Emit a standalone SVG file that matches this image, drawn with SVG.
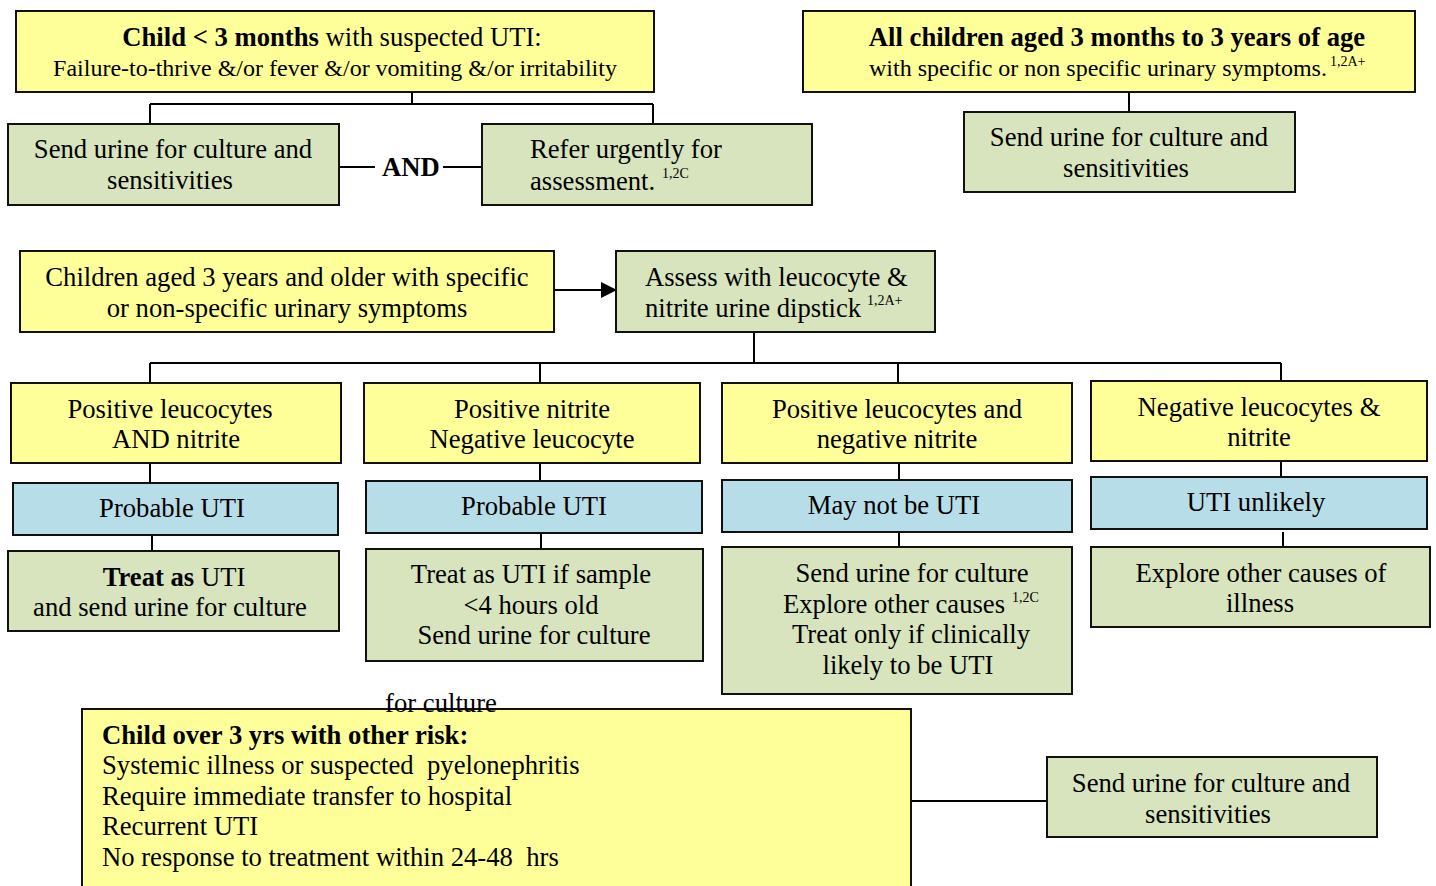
<svg xmlns="http://www.w3.org/2000/svg" width="1436" height="886" viewBox="0 0 1436 886">
<defs>
<style>
.y{fill:#FFFF99;stroke:#111;stroke-width:2}
.g{fill:#D7E4BD;stroke:#111;stroke-width:2}
.b{fill:#B7DDE8;stroke:#111;stroke-width:2}
text{font-family:"Liberation Serif","Times New Roman",serif;font-size:26.67px;fill:#000}
.c{text-anchor:middle}
.s{font-size:24px}
.sup{font-size:14px}
.bd{font-weight:bold}
.ln{stroke:#000;stroke-width:2;fill:none}
</style>
<marker id="ah" markerWidth="16" markerHeight="16" refX="15" refY="8" orient="auto" markerUnits="userSpaceOnUse">
<path d="M0,0 L16,8 L0,16 Z" fill="#000"/>
</marker>
</defs>
<rect width="1436" height="886" fill="#fff"/>
<g id="connectors">
<path class="ln" d="M412,92 V104 M150,104 H653 M150,104 V124 M653,104 V124"/>
<path class="ln" d="M339,167 H375 M443,167 H482"/>
<path class="ln" d="M1129,92 V112"/>
<path class="ln" d="M554,290 H616" marker-end="url(#ah)"/>
<path class="ln" d="M754,332 V363 M150,363 H1281 M150,363 V383 M540,363 V383 M898,363 V383 M1281,363 V381"/>
<path class="ln" d="M150,463 V483 M540,463 V481 M899,463 V480 M1281,461 V477"/>
<path class="ln" d="M152,535 V551 M541,533 V549 M899,532 V547 M1283,532 V546"/>
<path class="ln" d="M911,801 H1047"/>
</g>
<g id="n_child3m">
<rect class="y" x="16" y="11" width="638" height="81"/>
<text class="c" x="332" y="46"><tspan class="bd">Child &lt; 3 months</tspan> with suspected UTI:</text>
<text class="c s" x="335" y="76">Failure-to-thrive &amp;/or fever &amp;/or vomiting &amp;/or irritability</text>
</g>
<g id="n_send1">
<rect class="g" x="8" y="124" width="331" height="81"/>
<text class="c" x="173" y="158">Send urine for culture and</text>
<text class="c" x="170" y="189">sensitivities</text>
</g>
<g id="n_and">
<text class="c bd" x="411" y="176">AND</text>
</g>
<g id="n_refer">
<rect class="g" x="482" y="124" width="330" height="81"/>
<text x="530" y="158">Refer urgently for</text>
<text x="530" y="190">assessment.</text>
<text class="sup" x="662" y="178">1,2C</text>
</g>
<g id="n_child3m3y">
<rect class="y" x="803" y="11" width="612" height="81"/>
<text class="c bd" x="1117" y="46">All children aged 3 months to 3 years of age</text>
<text class="s" x="869" y="76">with specific or non specific urinary symptoms.</text>
<text class="sup" x="1330" y="66">1,2A+</text>
</g>
<g id="n_send2">
<rect class="g" x="964" y="112" width="331" height="80"/>
<text class="c" x="1129" y="146">Send urine for culture and</text>
<text class="c" x="1126" y="177">sensitivities</text>
</g>
<g id="n_child3y">
<rect class="y" x="20" y="251" width="534" height="81"/>
<text class="c" x="287" y="286">Children aged 3 years and older with specific</text>
<text class="c" x="287" y="317">or non-specific urinary symptoms</text>
</g>
<g id="n_assess">
<rect class="g" x="616" y="251" width="319" height="81"/>
<text x="645" y="286">Assess with leucocyte &amp;</text>
<text x="645" y="317">nitrite urine dipstick</text>
<text class="sup" x="867" y="305">1,2A+</text>
</g>
<g id="n_pos_both">
<rect class="y" x="11" y="383" width="330" height="80"/>
<text class="c" x="170" y="418">Positive leucocytes</text>
<text class="c" x="176" y="448">AND nitrite</text>
</g>
<g id="n_pos_nit">
<rect class="y" x="364" y="383" width="336" height="80"/>
<text class="c" x="532" y="418">Positive nitrite</text>
<text class="c" x="532" y="448">Negative leucocyte</text>
</g>
<g id="n_pos_leu">
<rect class="y" x="722" y="383" width="350" height="80"/>
<text class="c" x="897" y="418">Positive leucocytes and</text>
<text class="c" x="897" y="448">negative nitrite</text>
</g>
<g id="n_neg_both">
<rect class="y" x="1091" y="381" width="336" height="80"/>
<text class="c" x="1259" y="416">Negative leucocytes &amp;</text>
<text class="c" x="1259" y="446">nitrite</text>
</g>
<g id="n_prob1">
<rect class="b" x="13" y="483" width="325" height="52"/>
<text class="c" x="172" y="517">Probable UTI</text>
</g>
<g id="n_prob2">
<rect class="b" x="366" y="481" width="336" height="52"/>
<text class="c" x="534" y="515">Probable UTI</text>
</g>
<g id="n_maynot">
<rect class="b" x="722" y="480" width="350" height="52"/>
<text class="c" x="894" y="514">May not be UTI</text>
</g>
<g id="n_unlikely">
<rect class="b" x="1091" y="477" width="336" height="52"/>
<text class="c" x="1256" y="511">UTI unlikely</text>
</g>
<g id="n_treat1">
<rect class="g" x="8" y="551" width="331" height="80"/>
<text class="c" x="174" y="586"><tspan class="bd">Treat as</tspan> UTI</text>
<text class="c" x="170" y="616">and send urine for culture</text>
</g>
<g id="n_treat2">
<rect class="g" x="366" y="549" width="337" height="112"/>
<text class="c" x="531" y="583">Treat as UTI if sample</text>
<text class="c" x="531" y="614">&lt;4 hours old</text>
<text class="c" x="534" y="644">Send urine for culture</text>
</g>
<g id="n_explore1">
<rect class="g" x="722" y="547" width="350" height="147"/>
<text class="c" x="912" y="582">Send urine for culture</text>
<text x="783" y="613">Explore other causes</text>
<text class="sup" x="1012" y="602">1,2C</text>
<text class="c" x="911" y="643">Treat only if clinically</text>
<text class="c" x="908" y="674">likely to be UTI</text>
</g>
<g id="n_explore2">
<rect class="g" x="1091" y="547" width="339" height="80"/>
<text class="c" x="1261" y="582">Explore other causes of</text>
<text class="c" x="1260" y="612">illness</text>
</g>
<g id="n_risk">
<rect class="y" x="82" y="709" width="829" height="190"/>
<text class="bd" x="102" y="744">Child over 3 yrs with other risk:</text>
<text x="102" y="774" xml:space="preserve">Systemic illness or suspected  pyelonephritis</text>
<text x="102" y="805">Require immediate transfer to hospital</text>
<text x="102" y="835">Recurrent UTI</text>
<text x="102" y="866" xml:space="preserve">No response to treatment within 24-48  hrs</text>
</g>
<g id="n_stray">
<text class="c" x="441" y="712">for culture</text>
</g>
<g id="n_send3">
<rect class="g" x="1047" y="757" width="330" height="80"/>
<text class="c" x="1211" y="792">Send urine for culture and</text>
<text class="c" x="1208" y="823">sensitivities</text>
</g>
</svg>
